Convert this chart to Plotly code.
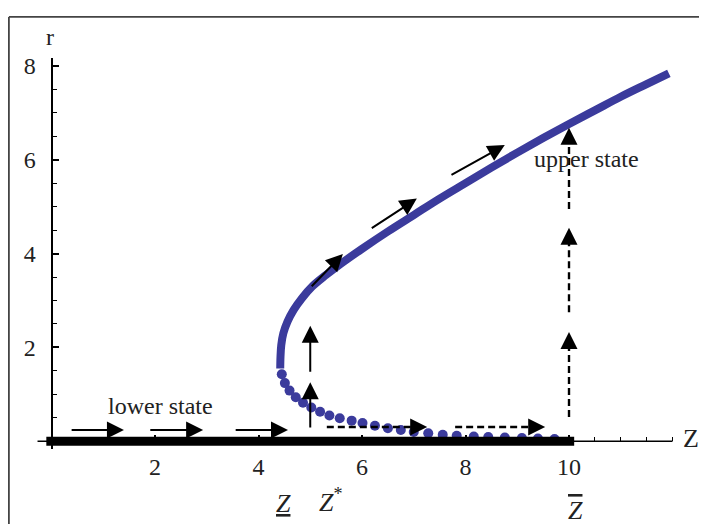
import plotly.graph_objects as go

# ---------------- data ----------------
upper_Z = [4.42, 4.425, 4.44, 4.48, 4.56, 4.68, 4.84, 5.04, 5.30, 5.50, 6.00, 6.50,
           7.00, 7.50, 8.00, 8.50, 9.00, 9.50, 10.00, 10.50, 11.00, 11.50, 11.93]
upper_r = [1.55, 1.80, 2.05, 2.30, 2.55, 2.80, 3.05, 3.30, 3.54, 3.71, 4.10, 4.47,
           4.82, 5.17, 5.50, 5.83, 6.15, 6.46, 6.76, 7.05, 7.34, 7.61, 7.84]

lower_Z = [4.45, 4.51, 4.60, 4.72, 4.86, 5.02, 5.19, 5.37, 5.57, 5.80, 6.01, 6.25,
           6.50, 6.75, 7.00, 7.28, 7.56, 7.83, 8.16, 8.44, 8.76, 9.09, 9.40, 9.72]
lower_r = [1.43, 1.24, 1.08, 0.94, 0.82, 0.72, 0.63, 0.55, 0.49, 0.44, 0.39, 0.33,
           0.28, 0.24, 0.20, 0.17, 0.14, 0.12, 0.10, 0.09, 0.08, 0.07, 0.06, 0.05]

lower_state_Z = [-0.1, 10.1]   # thick black segment (r = 0)
lower_state_r = [0, 0]
axis_Z = [-0.27, 12.0]
axis_r = [0, 0]

x_tickvals = [2, 4, 6, 8, 10]
x_ticktext = ["2", "4", "6", "8", "10"]
y_tickvals = [2, 4, 6, 8]
y_ticktext = ["2", "4", "6", "8"]

# arrows: (Z0, r0, Z1, r1)
solid_arrows = [
    (0.36, 0.243, 1.40, 0.243),
    (1.88, 0.243, 2.93, 0.243),
    (3.53, 0.243, 4.57, 0.243),
    (5.00, 0.26, 5.00, 1.26),
    (5.00, 1.45, 5.00, 2.46),
    (5.00, 3.27, 5.63, 3.99),
    (6.16, 4.52, 7.06, 5.17),
    (7.70, 5.66, 8.76, 6.31),
]
dashed_arrows = [
    (5.32, 0.306, 7.26, 0.306),
    (7.80, 0.306, 9.54, 0.306),
    (10.0, 0.52, 10.0, 2.33),
    (10.0, 2.75, 10.0, 4.55),
    (10.0, 4.95, 10.0, 6.68),
]

# ---------------- layout geometry ----------------
OFF = 8                     # browser default body margin
W, H = 707 - OFF, 524 - OFF
X0PX, XS = 51.5 - OFF, 51.75    # figure pixel of Z=0, px per unit
Y0PX, YS = 440.5 - OFF, 47.4    # figure pixel of r=0, px per unit
xr = [-0.3, 12.3]
yr = [-0.16, 8.17]
xdom = [(X0PX + xr[0] * XS) / W, (X0PX + xr[1] * XS) / W]
ydom = [1 - (Y0PX - yr[0] * YS) / H, 1 - (Y0PX - yr[1] * YS) / H]


def px(x):   # page pixel x -> paper
    return (x - OFF) / W


def py(y):   # page pixel y -> paper
    return 1 - (y - OFF) / H


BLUE = "#3b3b9c"
FONT = "Liberation Serif"
TXT = "#222222"

fig = go.Figure()

fig.add_trace(go.Scatter(x=axis_Z, y=axis_r, mode="lines",
                         line=dict(color="black", width=1.6), hoverinfo="skip"))
fig.add_trace(go.Scatter(x=upper_Z, y=upper_r, mode="lines",
                         line=dict(color=BLUE, width=8, shape="spline", smoothing=1),
                         hoverinfo="skip"))
fig.add_trace(go.Scatter(x=lower_Z, y=lower_r, mode="markers",
                         marker=dict(color=BLUE, size=10), hoverinfo="skip"))
fig.add_trace(go.Scatter(x=lower_state_Z, y=lower_state_r, mode="lines",
                         line=dict(color="black", width=9), hoverinfo="skip"))

annotations = []
HEAD = dict(arrowhead=2, arrowsize=1.7, arrowwidth=2, arrowcolor="black",
            showarrow=True, text="", xref="x", yref="y", axref="x", ayref="y",
            standoff=0, startstandoff=0)

for (z0, r0, z1, r1) in solid_arrows:
    annotations.append(dict(x=z1, y=r1, ax=z0, ay=r0, **HEAD))

for (z0, r0, z1, r1) in dashed_arrows:
    dxp, dyp = (z1 - z0) * XS, (r1 - r0) * YS
    L = (dxp ** 2 + dyp ** 2) ** 0.5
    hl = 12.0
    zb = z1 - dxp / L * hl / XS
    rb = r1 - dyp / L * hl / YS
    fig.add_trace(go.Scatter(x=[z0, zb], y=[r0, rb], mode="lines",
                             line=dict(color="black", width=2.4, dash="7px,4px"),
                             hoverinfo="skip"))
    annotations.append(dict(x=z1, y=r1, ax=zb, ay=rb, **HEAD))

C = dict(showarrow=False, xanchor="center", yanchor="middle")
annotations += [
    dict(x=2.1, y=0.75, xref="x", yref="y", text="lower state",
         font=dict(family=FONT, size=24, color=TXT), **C),
    dict(x=10.33, y=6.02, xref="x", yref="y", text="upper state",
         font=dict(family=FONT, size=24, color=TXT), **C),
    dict(x=px(50), y=py(32), xref="paper", yref="paper", text="r",
         font=dict(family=FONT, size=24, color=TXT), **C),
    dict(x=px(691), y=py(438), xref="paper", yref="paper", text="Z",
         font=dict(family=FONT, size=26, color=TXT), **C),
    dict(x=px(283), y=py(503), xref="paper", yref="paper", text="<u><i>Z</i></u>",
         font=dict(family=FONT, size=26, color=TXT), **C),
    dict(x=px(331), y=py(500), xref="paper", yref="paper", text="<i>Z</i><sup>*</sup>",
         font=dict(family=FONT, size=26, color=TXT), **C),
    dict(x=px(575), y=py(510), xref="paper", yref="paper",
         text='<span style="text-decoration:overline"><i>Z</i></span>',
         font=dict(family=FONT, size=26, color=TXT), **C),
]

shapes = [
    dict(type="line", xref="paper", yref="paper", x0=px(8.9), x1=1.0,
         y0=py(12), y1=py(12), line=dict(color="#444", width=1.8)),
    dict(type="line", xref="paper", yref="paper", x0=px(8.9), x1=px(8.9),
         y0=0, y1=py(12), line=dict(color="#444", width=1.8)),
]

fig.update_layout(
    width=W, height=H, autosize=False,
    margin=dict(l=0, r=0, t=0, b=0),
    paper_bgcolor="white", plot_bgcolor="white",
    showlegend=False,
    annotations=annotations, shapes=shapes,
    xaxis=dict(range=xr, domain=xdom, anchor="free", position=1 - Y0PX / H,
               showgrid=False, zeroline=False, showline=False,
               tickmode="array", tickvals=x_tickvals, ticktext=x_ticktext,
               ticks="inside", ticklen=6, tickwidth=1.5, tickcolor="black",
               ticklabelstandoff=9,
               minor=dict(tickmode="linear", tick0=0, dtick=0.5, ticks="inside",
                          ticklen=4, tickwidth=1.2, tickcolor="black"),
               tickfont=dict(family=FONT, size=24, color=TXT)),
    yaxis=dict(range=yr, domain=ydom, anchor="free", position=X0PX / W,
               showgrid=False, zeroline=False, showline=True, linecolor="black",
               linewidth=2,
               tickmode="array", tickvals=y_tickvals, ticktext=y_ticktext,
               ticks="inside", ticklen=6, tickwidth=1.5, tickcolor="black",
               ticklabelstandoff=10,
               minor=dict(tickmode="linear", tick0=0, dtick=0.5, ticks="inside",
                          ticklen=4, tickwidth=1.2, tickcolor="black"),
               tickfont=dict(family=FONT, size=24, color=TXT)),
)

fig.write_html("out.html")
